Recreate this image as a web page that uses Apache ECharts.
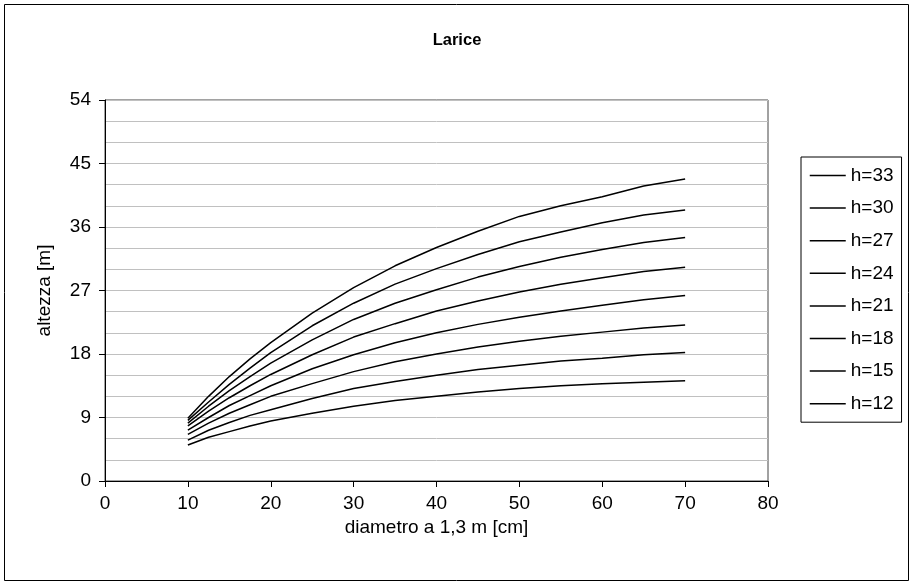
<!DOCTYPE html>
<html><head><meta charset="utf-8">
<script src="https://cdn.jsdelivr.net/npm/echarts@6/dist/echarts.min.js"></script>
<style>html,body{margin:0;padding:0;background:#fff}#c{width:914px;height:586px}</style>
</head><body><div id="c"></div>
<script>
const diam = [10, 12.5, 15, 17.5, 20, 25, 30, 35, 40, 45, 50, 55, 60, 65, 70];
const names = ['h=33','h=30','h=27','h=24','h=21','h=18','h=15','h=12'];
const h33 = [8.9, 12.0, 14.8, 17.3, 19.6, 23.8, 27.4, 30.5, 33.1, 35.4, 37.5, 39.0, 40.3, 41.8, 42.8];
const h30 = [8.6, 11.2, 13.7, 16.0, 18.2, 22.0, 25.2, 27.9, 30.1, 32.1, 33.9, 35.3, 36.6, 37.7, 38.4];
const h27 = [8.2, 10.6, 12.8, 14.8, 16.7, 20.0, 22.9, 25.2, 27.1, 28.9, 30.4, 31.7, 32.8, 33.8, 34.5];
const h24 = [7.8, 9.9, 11.8, 13.5, 15.1, 17.9, 20.4, 22.3, 24.1, 25.5, 26.8, 27.9, 28.8, 29.7, 30.3];
const h21 = [7.2, 9.0, 10.7, 12.1, 13.5, 15.9, 17.9, 19.6, 21.0, 22.2, 23.2, 24.1, 24.9, 25.7, 26.3];
const h18 = [6.6, 8.2, 9.6, 10.8, 12.0, 13.8, 15.5, 16.9, 18.0, 19.0, 19.8, 20.5, 21.1, 21.7, 22.1];
const h15 = [5.8, 7.2, 8.3, 9.3, 10.1, 11.7, 13.1, 14.1, 15.0, 15.8, 16.4, 17.0, 17.4, 17.9, 18.2];
const h12 = [5.1, 6.2, 7.0, 7.8, 8.5, 9.6, 10.6, 11.4, 12.0, 12.6, 13.1, 13.5, 13.8, 14.0, 14.2];
const seriesValues = [h33, h30, h27, h24, h21, h18, h15, h12];
const yTicks = [0, 9, 18, 27, 36, 45, 54];
const xTicks = [0, 10, 20, 30, 40, 50, 60, 70, 80];

const FONT = '"Liberation Sans", Arial, sans-serif';
const FS = 19;
const chart = echarts.init(document.getElementById('c'), null, {renderer: 'canvas'});
chart.setOption({
  animation: false,
  backgroundColor: '#fff',
  textStyle: {fontFamily: FONT, color: '#000'},
  graphic: [{type: 'rect', shape: {x: 4.5, y: 4.5, width: 904, height: 576}, style: {fill: 'none', stroke: '#000', lineWidth: 1}, silent: true}],
  title: {text: 'Larice', left: 'center', top: 27, textStyle: {fontFamily: FONT, fontSize: 16.5, fontWeight: 'bold', color: '#000'}},
  grid: {left: 105, right: 146, top: 100, bottom: 105, show: true, borderColor: '#444', borderWidth: 1, backgroundColor: 'transparent'},
  legend: {
    orient: 'vertical', left: 801, top: 157,
    data: names,
    itemWidth: 36, itemHeight: 14, itemGap: 13.6,
    padding: [9, 8, 9, 8],
    borderColor: '#000', borderWidth: 1,
    itemStyle: {color: 'rgba(0,0,0,0)', borderWidth: 0, opacity: 0},
    lineStyle: {color: '#000', width: 1.5},
    textStyle: {fontFamily: FONT, fontSize: FS, color: '#000'}
  },
  xAxis: {
    type: 'value', min: xTicks[0], max: xTicks[xTicks.length-1], interval: 10,
    name: 'diametro a 1,3 m [cm]', nameLocation: 'middle', nameGap: 31,
    nameTextStyle: {fontFamily: FONT, fontSize: FS, color: '#000'},
    axisLine: {show: true, onZero: false, lineStyle: {color: '#000', width: 1}},
    axisTick: {show: true, inside: false, length: 6, lineStyle: {color: '#000'}},
    axisLabel: {fontFamily: FONT, fontSize: FS, color: '#000', margin: 13},
    splitLine: {show: false}
  },
  yAxis: {
    type: 'value', min: yTicks[0], max: yTicks[yTicks.length-1], interval: 9,
    name: 'altezza [m]', nameLocation: 'middle', nameGap: 51, nameRotate: 90,
    nameTextStyle: {fontFamily: FONT, fontSize: FS, color: '#000'},
    axisLine: {show: true, lineStyle: {color: '#000', width: 1}},
    axisTick: {show: true, inside: false, length: 6, lineStyle: {color: '#000'}},
    axisLabel: {fontFamily: FONT, fontSize: FS, color: '#000', margin: 14},
    splitLine: {show: true, lineStyle: {color: '#c0c0c0', width: 1}},
    minorTick: {show: false, splitNumber: 3},
    minorSplitLine: {show: true, lineStyle: {color: '#c0c0c0', width: 1}}
  },
  series: names.map((n, i) => ({
    name: n, type: 'line', symbol: 'none', showSymbol: false, smooth: false,
    lineStyle: {color: '#000', width: 1.5},
    itemStyle: {color: '#000'},
    data: diam.map((d, j) => [d, seriesValues[i][j]])
  }))
});
</script></body></html>
